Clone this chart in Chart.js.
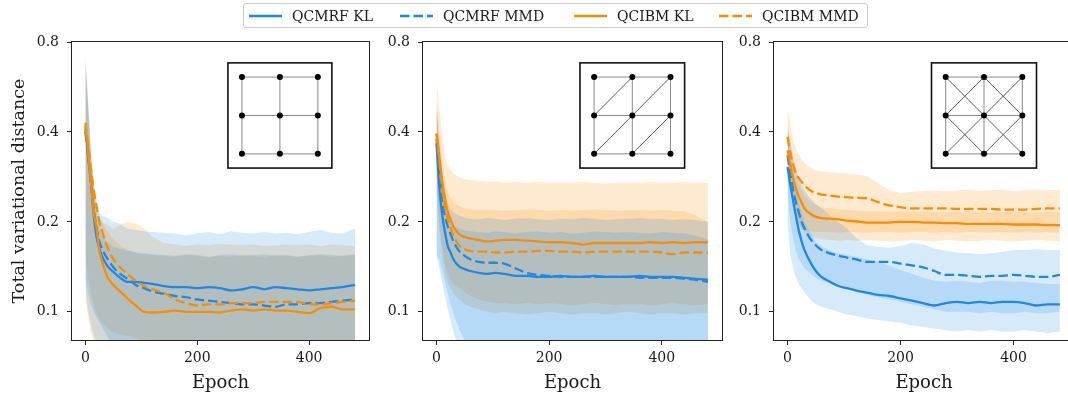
<!DOCTYPE html>
<html>
<head>
<meta charset="utf-8">
<script src="https://cdn.jsdelivr.net/npm/chart.js@4.4.1/dist/chart.umd.min.js"></script>
<style>
    html, body { margin: 0; padding: 0; background: #fff; overflow: hidden; }
    body { width: 1068px; height: 394px; position: relative; font-family: 'DejaVu Serif', serif; }
    canvas { position: absolute; top: 0; }
    #legend {
        position: absolute; left: 243px; top: 3px; width: 623px; height: 23px;
        border: 1px solid #cccccc; border-radius: 3px; background: #fff; z-index: 2;
    }
    .item { position: absolute; top: 0; height: 23px; display: flex; align-items: center;
        font-size: 14px; color: #1a1a1a; white-space: nowrap; }
    .item span { margin-left: 10px; }
</style>
</head>
<body>
<div id="legend"></div>
<canvas id="p1" width="372" height="394" style="left:0px"></canvas>
<canvas id="p2" width="350" height="394" style="left:375px"></canvas>
<canvas id="p3" width="351" height="394" style="left:726px"></canvas>
<script>
// Epochs sampled along each curve
const epochs = [0, 5, 10, 15, 20, 25, 30, 40, 50, 60, 75, 90, 105, 120, 140, 160, 180, 200, 220, 240, 260, 280, 300, 320, 340, 360, 380, 400, 420, 440, 460, 482];

const seriesLabels = ['QCMRF KL', 'QCMRF MMD', 'QCIBM KL', 'QCIBM MMD'];
const xTicks = [0, 200, 400];
const yTicks = [0.1, 0.2, 0.4, 0.8];

// Panel 1 : square lattice
const sqMrfKl   = [0.41,0.33,0.27,0.21,0.178,0.163,0.153, 0.142,0.136,0.131, 0.126,0.126,0.125,0.124, 0.122,0.121,0.121,0.12, 0.121,0.12,0.118,0.119,0.121, 0.119,0.121,0.12,0.119,0.118, 0.119,0.12,0.121,0.123];
const sqMrfMmd  = [0.40,0.33,0.27,0.22,0.19,0.172,0.162, 0.15,0.141,0.135, 0.129,0.123,0.12,0.117, 0.115,0.113,0.112,0.11, 0.109,0.108,0.107,0.106,0.106, 0.105,0.104,0.106,0.106,0.107, 0.107,0.108,0.109,0.11];
const sqCibmKl  = [0.42,0.34,0.27,0.215,0.19,0.16,0.147, 0.13,0.123,0.118, 0.111,0.105,0.1,0.0995, 0.1,0.101,0.1,0.1, 0.1,0.0995,0.101,0.102,0.101, 0.102,0.101,0.101,0.1,0.099, 0.103,0.104,0.102,0.102];
const sqCibmMmd = [0.43,0.36,0.30,0.255,0.225,0.2,0.186, 0.163,0.15,0.142, 0.134,0.127,0.122,0.119, 0.116,0.11,0.107,0.105, 0.106,0.106,0.107,0.107,0.107, 0.108,0.108,0.108,0.108,0.106, 0.106,0.107,0.108,0.109];
const sqMrfKlHi   = [0.72,0.5,0.34,0.27,0.235,0.215,0.21, 0.206,0.2,0.198, 0.19,0.188,0.186,0.185, 0.184,0.183,0.18,0.183, 0.185,0.182,0.186,0.184,0.183, 0.185,0.183,0.184,0.182,0.185, 0.188,0.184,0.183,0.19];
const sqMrfKlLo   = [0.13,0.115,0.105,0.1,0.096,0.092,0.089, 0.082,0.075,0.05, 0.05,0.05,0.05,0.05, 0.05,0.05,0.05,0.05, 0.05,0.05,0.05,0.05,0.05, 0.05,0.05,0.05,0.05,0.05, 0.05,0.05,0.05,0.05];
const sqMrfMmdHi  = [0.68,0.46,0.32,0.25,0.21,0.19,0.18, 0.17,0.165,0.163, 0.16,0.158,0.157,0.156, 0.155,0.154,0.156,0.155, 0.153,0.155,0.156,0.154,0.155, 0.156,0.154,0.155,0.153,0.155, 0.156,0.155,0.154,0.156];
const sqMrfMmdLo  = [0.12,0.1,0.09,0.083,0.078,0.05,0.05, 0.05,0.05,0.05, 0.05,0.05,0.05,0.05, 0.05,0.05,0.05,0.05, 0.05,0.05,0.05,0.05,0.05, 0.05,0.05,0.05,0.05,0.05, 0.05,0.05,0.05,0.05];
const sqCibmKlHi  = [0.7,0.48,0.33,0.26,0.22,0.205,0.2, 0.195,0.19,0.195, 0.2,0.198,0.19,0.178, 0.17,0.168,0.166,0.168, 0.167,0.169,0.168,0.167,0.168, 0.166,0.167,0.168,0.167,0.168, 0.166,0.168,0.167,0.166];
const sqCibmKlLo  = [0.15,0.13,0.115,0.105,0.098,0.095,0.092, 0.088,0.085,0.084, 0.083,0.082,0.079,0.075, 0.05,0.05,0.05,0.05, 0.05,0.05,0.05,0.05,0.05, 0.05,0.05,0.05,0.05,0.05, 0.05,0.05,0.05,0.05];
const sqCibmMmdHi = [0.7,0.5,0.35,0.27,0.23,0.21,0.2, 0.185,0.175,0.168, 0.162,0.158,0.156,0.155, 0.154,0.153,0.155,0.154, 0.152,0.154,0.153,0.155,0.154, 0.153,0.155,0.154,0.153,0.154, 0.155,0.153,0.154,0.155];
const sqCibmMmdLo = [0.11,0.095,0.085,0.079,0.05,0.05,0.05, 0.05,0.05,0.05, 0.05,0.05,0.05,0.05, 0.05,0.05,0.05,0.05, 0.05,0.05,0.05,0.05,0.05, 0.05,0.05,0.05,0.05,0.05, 0.05,0.05,0.05,0.05];

// Panel 2 : triangular lattice
const triMrfKl   = [0.366,0.26,0.212,0.185,0.166,0.158,0.15, 0.142,0.139,0.137, 0.135,0.134,0.135,0.134, 0.132,0.132,0.131,0.131, 0.132,0.131,0.131,0.132,0.131, 0.131,0.131,0.132,0.131,0.131, 0.131,0.13,0.129,0.128];
const triMrfMmd  = [0.38,0.3,0.235,0.21,0.193,0.182,0.172, 0.16,0.154,0.15, 0.147,0.146,0.146,0.145, 0.14,0.135,0.133,0.132, 0.131,0.131,0.131,0.131,0.131, 0.131,0.131,0.13,0.13,0.13, 0.13,0.129,0.128,0.126];
const triCibmKl  = [0.395,0.33,0.275,0.24,0.216,0.204,0.193, 0.182,0.178,0.176, 0.174,0.172,0.173,0.174, 0.174,0.173,0.172,0.171, 0.171,0.17,0.168,0.17,0.17, 0.17,0.17,0.17,0.171,0.17, 0.171,0.17,0.171,0.171];
const triCibmMmd = [0.395,0.32,0.26,0.225,0.205,0.192,0.18, 0.167,0.162,0.16, 0.159,0.159,0.158,0.158, 0.159,0.159,0.16,0.16, 0.159,0.159,0.158,0.159,0.159, 0.159,0.159,0.159,0.159,0.158, 0.156,0.158,0.158,0.158];
const triMrfKlHi   = [0.5,0.37,0.29,0.25,0.23,0.22,0.215, 0.21,0.207,0.205, 0.204,0.206,0.205,0.203, 0.205,0.206,0.204,0.203, 0.205,0.204,0.206,0.205,0.203, 0.204,0.205,0.206,0.204,0.205, 0.203,0.204,0.203,0.2];
const triMrfKlLo   = [0.155,0.15,0.137,0.125,0.115,0.106,0.099, 0.088,0.08,0.07, 0.05,0.05,0.05,0.05, 0.05,0.05,0.05,0.05, 0.05,0.05,0.05,0.05,0.05, 0.05,0.05,0.05,0.05,0.05, 0.05,0.05,0.05,0.05];
const triMrfMmdHi  = [0.47,0.35,0.27,0.23,0.21,0.2,0.195, 0.19,0.187,0.186, 0.185,0.184,0.186,0.185, 0.183,0.185,0.186,0.184, 0.185,0.183,0.184,0.186,0.185, 0.184,0.185,0.184,0.183,0.185, 0.184,0.183,0.18,0.175];
const triMrfMmdLo  = [0.155,0.14,0.125,0.113,0.102,0.094,0.086, 0.074,0.06,0.05, 0.05,0.05,0.05,0.05, 0.05,0.05,0.05,0.05, 0.05,0.05,0.05,0.05,0.05, 0.05,0.05,0.05,0.05,0.05, 0.05,0.05,0.05,0.05];
const triCibmKlHi  = [0.59,0.48,0.39,0.33,0.31,0.3,0.29, 0.283,0.278,0.276, 0.274,0.272,0.273,0.271, 0.272,0.27,0.272,0.271, 0.27,0.271,0.272,0.27,0.269, 0.27,0.271,0.27,0.272,0.271, 0.27,0.272,0.271,0.27];
const triCibmKlLo  = [0.26,0.2,0.165,0.145,0.135,0.128,0.124, 0.12,0.116,0.113, 0.11,0.108,0.107,0.107, 0.106,0.107,0.106,0.107, 0.106,0.105,0.106,0.107,0.106, 0.105,0.106,0.106,0.105,0.106, 0.107,0.106,0.105,0.106];
const triCibmMmdHi = [0.5,0.4,0.32,0.275,0.25,0.24,0.233, 0.226,0.222,0.22, 0.219,0.22,0.219,0.218, 0.219,0.22,0.219,0.218, 0.219,0.218,0.219,0.22,0.219, 0.218,0.219,0.219,0.218,0.219, 0.218,0.217,0.21,0.2];
const triCibmMmdLo = [0.25,0.19,0.155,0.135,0.125,0.12,0.115, 0.11,0.106,0.104, 0.102,0.1,0.099,0.1, 0.099,0.098,0.099,0.1, 0.099,0.098,0.099,0.099,0.098, 0.099,0.1,0.099,0.098,0.099, 0.099,0.098,0.099,0.099];

// Panel 3 : king's graph
const kgMrfKl   = [0.305,0.265,0.235,0.208,0.187,0.172,0.161, 0.147,0.137,0.131, 0.126,0.122,0.12,0.118, 0.116,0.114,0.113,0.111, 0.109,0.107,0.105,0.107,0.108, 0.107,0.108,0.107,0.108,0.108, 0.107,0.105,0.106,0.106];
const kgMrfMmd  = [0.334,0.29,0.255,0.232,0.215,0.2,0.19, 0.176,0.167,0.161, 0.157,0.154,0.152,0.15, 0.147,0.147,0.147,0.145, 0.143,0.141,0.137,0.133,0.133, 0.132,0.131,0.132,0.132,0.133, 0.132,0.131,0.131,0.133];
const kgCibmKl  = [0.347,0.31,0.28,0.258,0.243,0.232,0.222, 0.213,0.208,0.206, 0.205,0.204,0.202,0.201, 0.199,0.199,0.199,0.2, 0.2,0.199,0.199,0.198,0.198, 0.197,0.197,0.197,0.197,0.196, 0.196,0.196,0.195,0.195];
const kgCibmMmd = [0.385,0.34,0.31,0.29,0.28,0.272,0.265, 0.255,0.25,0.247, 0.245,0.243,0.242,0.241, 0.24,0.233,0.227,0.224, 0.222,0.222,0.222,0.222,0.221, 0.221,0.221,0.221,0.22,0.22, 0.22,0.221,0.222,0.222];
const kgMrfKlHi   = [0.4,0.33,0.29,0.255,0.232,0.215,0.2, 0.185,0.172,0.165, 0.16,0.157,0.155,0.153, 0.15,0.147,0.143,0.138, 0.134,0.13,0.127,0.126,0.127, 0.126,0.125,0.127,0.127,0.126, 0.126,0.125,0.124,0.124];
const kgMrfKlLo   = [0.2,0.155,0.14,0.13,0.124,0.12,0.116, 0.11,0.106,0.104, 0.102,0.1,0.098,0.097, 0.095,0.094,0.093,0.092, 0.09,0.089,0.088,0.087,0.086, 0.087,0.086,0.087,0.086,0.086, 0.087,0.086,0.085,0.086];
const kgMrfMmdHi  = [0.42,0.37,0.33,0.3,0.28,0.265,0.255, 0.24,0.23,0.222, 0.21,0.2,0.19,0.178, 0.167,0.165,0.164,0.166, 0.17,0.168,0.163,0.16,0.158, 0.157,0.156,0.157,0.159,0.161, 0.161,0.162,0.161,0.161];
const kgMrfMmdLo  = [0.25,0.2,0.175,0.16,0.15,0.145,0.14, 0.135,0.13,0.127, 0.125,0.122,0.12,0.117, 0.114,0.112,0.11,0.108, 0.106,0.104,0.102,0.1,0.1, 0.1,0.099,0.1,0.099,0.099, 0.1,0.099,0.099,0.1];
const kgCibmKlHi  = [0.42,0.36,0.32,0.29,0.27,0.255,0.245, 0.235,0.228,0.224, 0.222,0.22,0.219,0.218, 0.217,0.217,0.216,0.217, 0.216,0.217,0.216,0.215,0.216, 0.217,0.216,0.215,0.216,0.217, 0.216,0.215,0.216,0.216];
const kgCibmKlLo  = [0.28,0.25,0.225,0.205,0.195,0.19,0.188, 0.186,0.185,0.185, 0.185,0.184,0.185,0.185, 0.184,0.185,0.185,0.184, 0.185,0.185,0.184,0.185,0.184, 0.185,0.185,0.184,0.185,0.184, 0.185,0.184,0.185,0.184];
const kgCibmMmdHi = [0.48,0.42,0.38,0.35,0.335,0.325,0.315, 0.305,0.298,0.295, 0.293,0.292,0.29,0.289, 0.285,0.27,0.255,0.25, 0.252,0.254,0.255,0.253,0.255, 0.256,0.254,0.255,0.256,0.254, 0.255,0.256,0.255,0.256];
const kgCibmMmdLo = [0.3,0.26,0.235,0.215,0.2,0.19,0.185, 0.18,0.177,0.175, 0.174,0.173,0.174,0.173, 0.174,0.173,0.172,0.173, 0.174,0.173,0.172,0.174,0.173, 0.172,0.173,0.174,0.173,0.172, 0.173,0.174,0.173,0.172];

const BLUE = '#1E88E5';
const ORANGE = '#FB8C00';
const seriesColors = [BLUE, BLUE, ORANGE, ORANGE];
const seriesDashed = [false, true, false, true];
const DASH = [9.5, 4];
const FONT = "'DejaVu Serif', serif";
const TXT = '#1a1a1a';

// Panels : data + how the inset graph looks (0 = square, 1 = one diagonal, 2 = both)
const panels = [
    { id: 'p1', diag: 0, padLeft: 9, yWidth: 63, yTitle: true,
      means: [sqMrfKl, sqMrfMmd, sqCibmKl, sqCibmMmd],
      lows: [sqMrfKlLo, sqMrfMmdLo, sqCibmKlLo, sqCibmMmdLo],
      highs: [sqMrfKlHi, sqMrfMmdHi, sqCibmKlHi, sqCibmMmdHi] },
    { id: 'p2', diag: 1, padLeft: 0, yWidth: 48, yTitle: false,
      means: [triMrfKl, triMrfMmd, triCibmKl, triCibmMmd],
      lows: [triMrfKlLo, triMrfMmdLo, triCibmKlLo, triCibmMmdLo],
      highs: [triMrfKlHi, triMrfMmdHi, triCibmKlHi, triCibmMmdHi] },
    { id: 'p3', diag: 2, padLeft: 0, yWidth: 48, yTitle: false,
      means: [kgMrfKl, kgMrfMmd, kgCibmKl, kgCibmMmd],
      lows: [kgMrfKlLo, kgMrfMmdLo, kgCibmKlLo, kgCibmMmdLo],
      highs: [kgMrfKlHi, kgMrfMmdHi, kgCibmKlHi, kgCibmMmdHi] }
];

function pts(arr) {
    return epochs.map((e, i) => ({ x: e, y: arr[i] }));
}

function alpha(hex, a) {
    const n = parseInt(hex.slice(1), 16);
    return `rgba(${(n >> 16) & 255}, ${(n >> 8) & 255}, ${n & 255}, ${a})`;
}

// frame around the axes + small lattice inset
const panelDecor = {
    id: 'panelDecor',
    afterDatasetsDraw(chart, args, opts) {
        const { ctx, chartArea: a } = chart;
        ctx.save();
        ctx.strokeStyle = '#222';
        ctx.lineWidth = 1;
        ctx.strokeRect(a.left - 0.5, a.top - 0.5, a.width + 1, a.height + 1);

        const bx = a.left + a.width * 0.525, by = a.top + a.height * 0.07;
        const bw = a.width * 0.35, bh = a.height * 0.353;
        ctx.fillStyle = '#fff';
        ctx.fillRect(bx, by, bw, bh);
        ctx.lineWidth = 1.6;
        ctx.strokeStyle = '#111';
        ctx.strokeRect(bx, by, bw, bh);

        const px = c => bx + bw * (0.135 + 0.365 * c);
        const py = r => by + bh * (0.135 + 0.365 * r);
        const seg = (r1, c1, r2, c2) => {
            ctx.beginPath(); ctx.moveTo(px(c1), py(r1)); ctx.lineTo(px(c2), py(r2)); ctx.stroke();
        };
        // diagonals
        ctx.strokeStyle = '#333';
        ctx.lineWidth = 0.8;
        for (let r = 0; r < 2; r++) {
            for (let c = 0; c < 2; c++) {
                if (opts.diag >= 1) seg(r + 1, c, r, c + 1);
                if (opts.diag === 2) seg(r, c, r + 1, c + 1);
            }
        }
        // lattice edges
        ctx.strokeStyle = '#8a8a8a';
        ctx.lineWidth = 1;
        for (let i = 0; i < 3; i++) {
            seg(i, 0, i, 2);
            seg(0, i, 2, i);
        }
        ctx.fillStyle = '#000';
        for (let r = 0; r < 3; r++) {
            for (let c = 0; c < 3; c++) {
                ctx.beginPath(); ctx.arc(px(c), py(r), 3, 0, Math.PI * 2); ctx.fill();
            }
        }
        ctx.restore();
    }
};

panels.forEach(p => {
    const datasets = [];
    // shaded bands first
    for (let s = 0; s < 4; s++) {
        datasets.push({
            data: pts(p.lows[s]), borderColor: 'rgba(0,0,0,0)', borderWidth: 0,
            pointRadius: 0, fill: false, order: 10
        });
        datasets.push({
            data: pts(p.highs[s]), borderColor: 'rgba(0,0,0,0)', borderWidth: 0,
            pointRadius: 0, fill: '-1', backgroundColor: alpha(seriesColors[s], 0.18), order: 10
        });
    }
    // mean curves
    for (let s = 0; s < 4; s++) {
        datasets.push({
            label: seriesLabels[s],
            data: pts(p.means[s]),
            borderColor: seriesColors[s],
            borderWidth: 2.3,
            borderDash: seriesDashed[s] ? DASH : [],
            pointRadius: 0,
            fill: false,
            cubicInterpolationMode: 'monotone',
            order: 4 - s
        });
    }

    new Chart(document.getElementById(p.id), {
        type: 'line',
        data: { datasets: datasets },
        plugins: [panelDecor],
        options: {
            responsive: false,
            animation: false,
            events: [],
            layout: { padding: { left: p.padLeft, right: 3, top: 42, bottom: 0 } },
            plugins: {
                legend: { display: false },
                tooltip: { enabled: false },
                panelDecor: { diag: p.diag }
            },
            scales: {
                x: {
                    type: 'linear',
                    min: -24,
                    max: 507,
                    afterBuildTicks: sc => { sc.ticks = xTicks.map(v => ({ value: v })); },
                    afterFit: sc => { sc.height = 54; },
                    ticks: { font: { family: FONT, size: 14 }, color: TXT, padding: 5, maxRotation: 0 },
                    grid: { drawOnChartArea: false, tickLength: 5, color: '#222' },
                    border: { display: false },
                    title: { display: true, text: 'Epoch', font: { family: FONT, size: 18 }, color: TXT, padding: 0 }
                },
                y: {
                    type: 'logarithmic',
                    min: 0.0805,
                    max: 0.8,
                    afterBuildTicks: sc => { sc.ticks = yTicks.map(v => ({ value: v })); },
                    afterFit: sc => { sc.width = p.yWidth; },
                    ticks: { font: { family: FONT, size: 14 }, color: TXT, padding: 8,
                             callback: v => Number(v).toFixed(1) },
                    grid: { drawOnChartArea: false, tickLength: 5, color: '#222' },
                    border: { display: false },
                    title: { display: p.yTitle, text: 'Total variational distance',
                             font: { family: FONT, size: 17.5 }, color: TXT, padding: 0 }
                }
            }
        }
    });
});

// legend across the top
const legendX = [5, 156, 330, 475];
const legend = document.getElementById('legend');
seriesLabels.forEach((lab, i) => {
    const it = document.createElement('div');
    it.className = 'item';
    it.style.left = legendX[i] + 'px';
    const dash = seriesDashed[i] ? `stroke-dasharray="${DASH.join(' ')}"` : '';
    it.innerHTML = `<svg width="33" height="23"><line x1="0" y1="12" x2="33" y2="12" stroke="${seriesColors[i]}" stroke-width="2.3" ${dash}/></svg><span>${lab}</span>`;
    legend.appendChild(it);
});
</script>
</body>
</html>
